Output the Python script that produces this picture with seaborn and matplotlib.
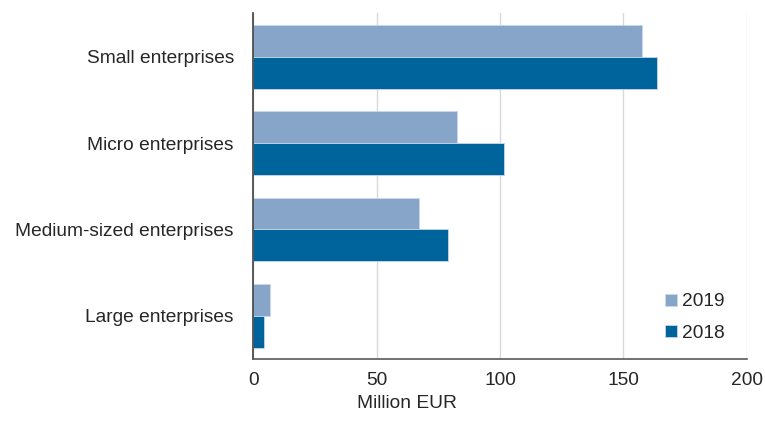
import matplotlib
matplotlib.use("Agg")
import matplotlib.pyplot as plt
import seaborn as sns
import pandas as pd

categories = ["Small enterprises", "Micro enterprises", "Medium-sized enterprises", "Large enterprises"]
years = ["2019", "2018"]
values_2019 = [157.4, 82.7, 67.1, 6.7]
values_2018 = [163.5, 101.6, 78.9, 4.2]
x_ticks = [0, 50, 100, 150, 200]

df = pd.DataFrame({
    "Enterprise size": categories * 2,
    "Year": [years[0]] * len(categories) + [years[1]] * len(categories),
    "Value": values_2019 + values_2018,
})

sns.set_theme(style="white")
plt.rcParams["font.family"] = ["Liberation Sans", "DejaVu Sans"]

fig = plt.figure(figsize=(7.65, 4.21), dpi=100)
ax = fig.add_axes([0.3312, 0.147, 0.6448, 0.821])

palette = {"2019": "#87a5c9", "2018": "#00649c"}
sns.barplot(data=df, y="Enterprise size", x="Value", hue="Year",
            order=categories, hue_order=years, palette=palette,
            orient="h", width=0.74, saturation=1, ax=ax,
            edgecolor="#c8d8ea", linewidth=0.6)

fs = 13.8
ax.set_xlim(0, 200)
ax.set_ylim(3.5, -0.5)
ax.set_xticks(x_ticks)
ax.set_xticklabels([str(t) for t in x_ticks], fontsize=fs, color="#262626")
ax.tick_params(axis="y", labelsize=fs, colors="#262626", length=0, pad=14)
ax.tick_params(axis="x", length=0, pad=9)
ax.set_ylabel("")
ax.set_xlabel("Million EUR", fontsize=fs, color="#262626")
ax.xaxis.set_label_coords(0.311, -0.105)

ax.grid(axis="x", color="#d9d9d9", linewidth=1)
ax.set_axisbelow(True)
for side in ["top", "right"]:
    ax.spines[side].set_visible(False)
ax.spines["left"].set_color("#404040")
ax.spines["left"].set_linewidth(1.2)
ax.spines["bottom"].set_color("#595959")
ax.spines["bottom"].set_linewidth(1.2)

handles, labels = ax.get_legend_handles_labels()
ax.legend(handles, labels, loc="center left", bbox_to_anchor=(0.80, 0.12),
          frameon=False, fontsize=fs, handlelength=0.6, handleheight=0.6,
          handletextpad=0.3, labelspacing=0.75)

fig.savefig("out.png", dpi=100)
